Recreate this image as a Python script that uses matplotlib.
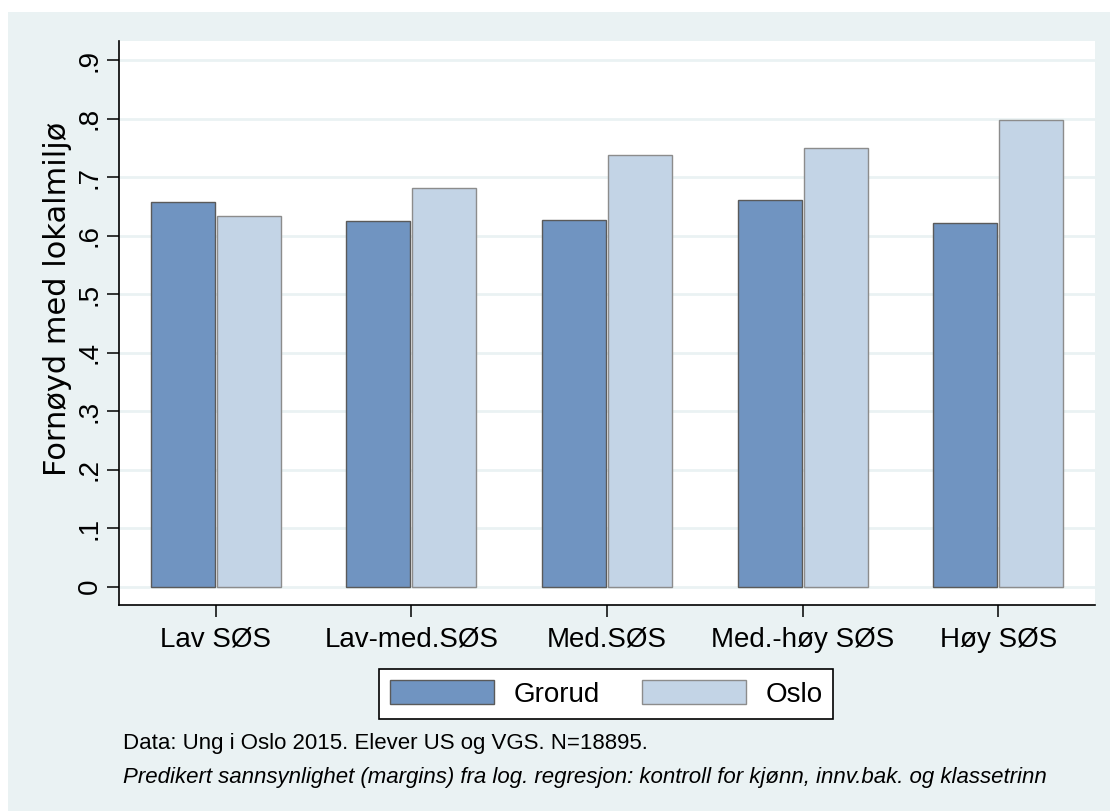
import matplotlib
matplotlib.use("Agg")
import matplotlib.pyplot as plt
from matplotlib.patches import Rectangle, Patch
import numpy as np

plt.rcParams['font.family'] = ['Liberation Sans', 'DejaVu Sans']

categories = ['Lav SØS', 'Lav-med.SØS', 'Med.SØS', 'Med.-høy SØS', 'Høy SØS']
grorud = [0.657, 0.625, 0.627, 0.660, 0.622]
oslo = [0.634, 0.681, 0.737, 0.750, 0.797]
yticks = [0, .1, .2, .3, .4, .5, .6, .7, .8, .9]
yticklabels = ['0', '.1', '.2', '.3', '.4', '.5', '.6', '.7', '.8', '.9']

bg = '#EAF2F3'
c_grorud = '#7094C1'
c_oslo = '#C3D4E6'

fig = plt.figure(figsize=(11.1, 8.11), dpi=100, facecolor='white')
# light background panel (graph region)
fig.patches.append(Rectangle((8 / 1110, 0), 1, (811 - 12) / 811, transform=fig.transFigure,
                             facecolor=bg, edgecolor='none', zorder=-10))

ax = fig.add_axes([119 / 1110, (811 - 605) / 811, (1095 - 119) / 1110, (605 - 41) / 811])
ax.set_facecolor('white')

x = np.arange(len(categories))
w = 0.327
ax.bar(x - 0.169, grorud, w, color=c_grorud, edgecolor='#5A5A5A', linewidth=1.0, zorder=3)
ax.bar(x + 0.169, oslo, w, color=c_oslo, edgecolor='#8C8C8C', linewidth=1.0, zorder=3)

ax.set_xlim(-0.494, 4.494)
ax.set_ylim(-0.0314, 0.9326)
ax.set_yticks(yticks)
ax.set_yticklabels(yticklabels, rotation=90, va='center')
ax.set_xticks(x)
ax.set_xticklabels(categories)
ax.tick_params(axis='both', labelsize=20, length=8.6, width=1.1, color='black')
ax.tick_params(axis='x', pad=7)
ax.tick_params(axis='y', pad=3)
ax.yaxis.grid(True, color=bg, linewidth=2, zorder=0)
ax.set_axisbelow(True)

for s in ['top', 'right']:
    ax.spines[s].set_visible(False)
for s in ['left', 'bottom']:
    ax.spines[s].set_linewidth(1.2)

# the rotated title in the original is drawn with loose letter spacing,
# a wider face gets the length closer
ax.set_ylabel('Fornøyd med lokalmiljø', fontsize=22, family='DejaVu Sans')
ax.yaxis.set_label_coords(-0.048, 0.543)

handles = [Patch(facecolor=c_grorud, edgecolor='#5A5A5A', linewidth=1.0),
           Patch(facecolor=c_oslo, edgecolor='#8C8C8C', linewidth=1.0)]
leg = fig.legend(handles, ['Grorud', 'Oslo'], ncol=2, loc='center',
                 bbox_to_anchor=((376.7 + 835.7) / 2 / 1110, 1 - 694 / 811),
                 fontsize=20, frameon=True, fancybox=False, framealpha=1,
                 edgecolor='black', handlelength=3.75, handleheight=0.94,
                 handletextpad=0.7, columnspacing=1.5, borderpad=0.4)
leg.get_frame().set_linewidth(1.2)

fig.text(123 / 1110, 1 - 744 / 811, 'Data: Ung i Oslo 2015. Elever US og VGS. N=18895.',
         fontsize=16, va='center', ha='left')
fig.text(123 / 1110, 1 - 777 / 811,
         'Predikert sannsynlighet (margins) fra log. regresjon: kontroll for kjønn, innv.bak. og klassetrinn',
         fontsize=16, va='center', ha='left', style='italic')

fig.savefig('out.png', dpi=100, facecolor='white')
